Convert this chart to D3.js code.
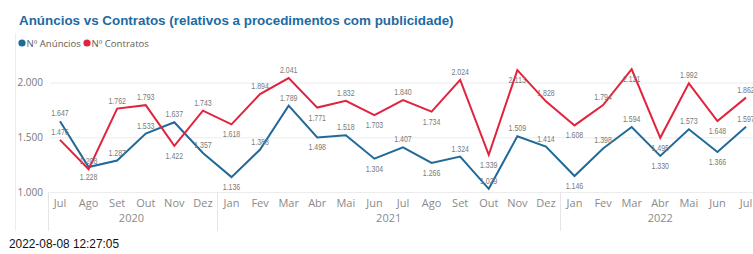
<!DOCTYPE html>
<html>
<head>
<meta charset="utf-8">
<script src="https://cdn.jsdelivr.net/npm/d3@7"></script>
<style>
  body { margin: 0; background: #fff; }
  svg { display: block; }
</style>
</head>
<body>
<div id="chart"></div>
<script>
const months = ["Jul","Ago","Set","Out","Nov","Dez","Jan","Fev","Mar","Abr","Mai","Jun","Jul","Ago","Set","Out","Nov","Dez","Jan","Fev","Mar","Abr","Mai","Jun","Jul"]
const years = ["2020","2020","2020","2020","2020","2020","2021","2021","2021","2021","2021","2021","2021","2021","2021","2021","2021","2021","2022","2022","2022","2022","2022","2022","2022"]
const anuncios = [1647,1228,1287,1533,1637,1357,1136,1388,1789,1498,1518,1304,1407,1266,1324,1029,1509,1414,1146,1398,1594,1330,1573,1366,1597]
const contratos = [1476,1208,1762,1793,1422,1743,1618,1894,2041,1771,1832,1703,1840,1734,2024,1339,2113,1828,1608,1794,2121,1495,1992,1648,1862]
const yTicks = [1000, 1500, 2000]

const W = 753, H = 254
const blue = "#1f6a99", red = "#e1233d"
const fmt = v => d3.format(",")(v).replace(",", ".")

const svg = d3.select("#chart").append("svg").attr("width", W).attr("height", H)

// container border
svg.append("line").attr("x1", 15.5).attr("x2", 15.5).attr("y1", 33).attr("y2", 231)
  .attr("stroke", "#ececec")

// title
svg.append("text").attr("x", 19).attr("y", 25)
  .attr("font-family", "Liberation Sans, Arial, sans-serif").attr("font-weight", "bold")
  .attr("font-size", 13.4).attr("fill", "#1d6aa3")
  .text("Anúncios vs Contratos (relativos a procedimentos com publicidade)")

// legend
const legend = [{ name: "Nº Anúncios", color: blue, x: 22 }, { name: "Nº Contratos", color: red, x: 87 }]
legend.forEach(l => {
  svg.append("circle").attr("cx", l.x).attr("cy", 43).attr("r", 3.6).attr("fill", l.color)
  svg.append("text").attr("x", l.x + 4.5).attr("y", 46.5)
    .attr("font-family", "Open Sans, sans-serif").attr("font-size", 9.6).attr("fill", "#605e5c")
    .text(l.name)
})

// scales
const x = d3.scaleBand().domain(d3.range(months.length)).range([45.7, 760.3]).padding(0)
const y = d3.scaleLinear().domain([1000, 2000]).range([192, 82.5])
const cx = i => x(i) + x.bandwidth() / 2

// grid + y labels
yTicks.forEach(t => {
  svg.append("line").attr("x1", 50).attr("x2", W).attr("y1", y(t) + 0.5).attr("y2", y(t) + 0.5)
    .attr("stroke", "#ececec")
  svg.append("text").attr("x", 43).attr("y", y(t) + 3.5).attr("text-anchor", "end")
    .attr("font-family", "Open Sans, sans-serif").attr("font-size", 10).attr("fill", "#777")
    .text(fmt(t))
})

// x axis: months
const axis = svg.append("g").attr("transform", "translate(0,192)")
axis.call(d3.axisBottom(x).tickSize(0).tickPadding(0).tickFormat(i => months[i]))
axis.select(".domain").remove()
axis.selectAll("text").attr("y", 15).attr("dy", 0)
  .attr("font-family", "Open Sans, sans-serif").attr("font-size", 11).attr("fill", "#8a8a8a")

// year groups
const groups = d3.groups(d3.range(months.length), i => years[i])
groups.forEach(([yr, idx]) => {
  const x0 = x(idx[0])
  svg.append("text").attr("x", (cx(idx[0]) + cx(idx[idx.length - 1])) / 2).attr("y", 222)
    .attr("text-anchor", "middle")
    .attr("font-family", "Open Sans, sans-serif").attr("font-size", 11).attr("fill", "#8a8a8a")
    .text(yr)
  const sx = Math.round(idx[0] === 0 ? 48 : x0) + 0.5
  svg.append("line").attr("x1", sx).attr("x2", sx).attr("y1", 192).attr("y2", 231)
    .attr("stroke", "#e6e6e6")
})

// lines
const line = d3.line().x((d, i) => cx(i)).y(d => y(d))
;[[anuncios, blue], [contratos, red]].forEach(([s, c]) => {
  svg.append("path").datum(s).attr("d", line).attr("fill", "none")
    .attr("stroke", c).attr("stroke-width", 2).attr("stroke-linejoin", "miter")
})

// data labels: below at local minima, flipped when out of the plot or colliding
const placed = []
const labelsFor = s => s.map((v, i) => {
  const isMin = (i > 0 && i < s.length - 1) && v < s[i - 1] && v < s[i + 1]
  let below = isMin
  let ly = y(v) + (below ? 10 : -8)
  if (below && ly > 190) { below = false; ly = y(v) - 8 }
  if (!below && ly < 68) { below = true; ly = y(v) + 10 }
  const clash = placed.find(p => p.i === i && Math.abs(p.ly - ly) < 9)
  if (clash) { below = !below; ly = y(v) + (below ? 10 : -8) }
  const r = { i, v, ly }
  placed.push(r)
  return r
})
const labels = labelsFor(anuncios).concat(labelsFor(contratos))
svg.append("g").selectAll("text").data(labels).enter().append("text")
  .attr("x", d => cx(d.i)).attr("y", d => d.ly + 3)
  .attr("text-anchor", "middle")
  .attr("font-family", "Liberation Sans, Arial, sans-serif")
  .attr("font-size", 8.8).attr("fill", "#7a7a7a")
  .attr("textLength", 17.5).attr("lengthAdjust", "spacingAndGlyphs")
  .text(d => fmt(d.v))

// timestamp
svg.append("text").attr("x", 9).attr("y", 248)
  .attr("font-family", "Liberation Sans, Arial, sans-serif")
  .attr("font-size", 13.5).attr("fill", "#111")
  .attr("textLength", 110).attr("lengthAdjust", "spacingAndGlyphs")
  .text("2022-08-08 12:27:05")
</script>
</body>
</html>
